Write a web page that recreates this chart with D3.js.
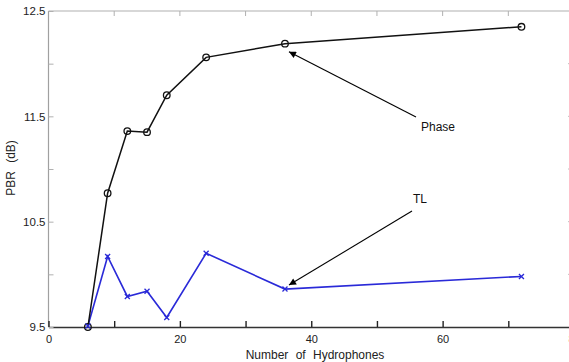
<!DOCTYPE html>
<html>
<head>
<meta charset="utf-8">
<script src="https://cdn.jsdelivr.net/npm/d3@7"></script>
<style>
  body { margin: 0; background: #fff; }
  svg { display: block; }
  text { font-family: "Liberation Sans", Arial, sans-serif; }
</style>
</head>
<body>
<svg id="chart" width="569" height="362"></svg>
<script>
// ---- data ----
const hydrophones = [6, 9, 12, 15, 18, 24, 36, 72];
const phaseValues = [9.5, 10.77, 11.36, 11.35, 11.70, 12.06, 12.19, 12.35];
const tlValues    = [9.51, 10.17, 9.79, 9.84, 9.59, 10.20, 9.86, 9.98];
const xTicks = [0, 10, 20, 30, 40, 50, 60, 70, 80];
const xTickLabels = ["0", "", "20", "", "40", "", "60", "", "80"];
const yTicks = [9.5, 10, 10.5, 11, 11.5, 12, 12.5];
const yTickLabels = ["9.5", "", "10.5", "", "11.5", "", "12.5"];
const annotations = [
  { label: "Phase", x: 36, value: 12.19, textX: 421, textY: 131, fromX: 416, fromY: 117 },
  { label: "TL",    x: 36, value: 9.86,  textX: 413, textY: 203, fromX: 412, fromY: 211 }
];

(function () {
const svg = d3.select("#chart");
const pL = 48.5, pR = 574, pT = 11, pB = 327;
const x = d3.scaleLinear().domain([0, 80]).range([pL, pR]);
const y = d3.scaleLinear().domain([9.5, 12.5]).range([pB, pT]);

// frame: top & left gray
svg.append("line").attr("x1", pL).attr("x2", pR).attr("y1", pT).attr("y2", pT)
  .attr("stroke", "#b0b0b0").attr("stroke-width", 1.2);
svg.append("line").attr("x1", pL).attr("x2", pL).attr("y1", pT).attr("y2", pB)
  .attr("stroke", "#a0a0a0").attr("stroke-width", 1.2);

// bottom axis (ticks inward)
const xAxis = d3.axisBottom(x).tickValues(xTicks)
  .tickFormat((d, i) => xTickLabels[i]).tickSizeInner(-6).tickSizeOuter(0).tickPadding(8);
const gx = svg.append("g").attr("transform", `translate(0,${pB})`).call(xAxis);
gx.select(".domain").attr("stroke", "#333").attr("stroke-width", 1.6);
gx.selectAll(".tick line").attr("stroke", "#222").attr("stroke-width", 1.4);
gx.selectAll(".tick text").attr("font-size", 11).attr("fill", "#222")
  .attr("font-family", "Liberation Sans, Arial, sans-serif");

// top ticks
svg.append("g").selectAll("line").data(xTicks.slice(1, -1)).join("line")
  .attr("x1", d => x(d)).attr("x2", d => x(d)).attr("y1", pT).attr("y2", pT + 5)
  .attr("stroke", "#b0b0b0");

// left axis (ticks inward)
const yAxis = d3.axisLeft(y).tickValues(yTicks)
  .tickFormat((d, i) => yTickLabels[i]).tickSizeInner(-5).tickSizeOuter(0).tickPadding(3);
const gy = svg.append("g").attr("transform", `translate(${pL},0)`).call(yAxis);
gy.select(".domain").remove();
gy.selectAll(".tick line").attr("stroke", "#b0b0b0");
gy.selectAll(".tick text").attr("font-size", 11.5).attr("fill", "#222")
  .attr("font-family", "Liberation Sans, Arial, sans-serif");

// right ticks
svg.append("g").selectAll("line").data(yTicks.slice(1, -1)).join("line")
  .attr("x1", pR - 6).attr("x2", pR).attr("y1", d => y(d)).attr("y2", d => y(d))
  .attr("stroke", "#c0c0c0");

// axis titles
svg.append("text").attr("x", 315).attr("y", 359).attr("text-anchor", "middle")
  .attr("font-size", 12).attr("word-spacing", 4).attr("fill", "#222").text("Number of Hydrophones");
svg.append("text").attr("transform", "translate(15,168) rotate(-90)").attr("text-anchor", "middle")
  .attr("font-size", 12).attr("word-spacing", 5).attr("fill", "#222").text("PBR (dB)");

// series
const line = d3.line().x(d => x(d[0])).y(d => y(d[1]));
const phaseData = hydrophones.map((h, i) => [h, phaseValues[i]]);
const tlData = hydrophones.map((h, i) => [h, tlValues[i]]);

svg.append("path").datum(tlData).attr("d", line).attr("fill", "none")
  .attr("stroke", "#2a2ad8").attr("stroke-width", 1.6);
svg.append("path").datum(phaseData).attr("d", line).attr("fill", "none")
  .attr("stroke", "#111").attr("stroke-width", 1.5);

svg.append("g").selectAll("circle").data(phaseData).join("circle")
  .attr("cx", d => x(d[0])).attr("cy", d => y(d[1])).attr("r", 3.3)
  .attr("fill", "none").attr("stroke", "#111").attr("stroke-width", 1.3);

const s = 2.5;
svg.append("g").selectAll("path").data(tlData).join("path")
  .attr("d", d => {
    const cx = x(d[0]), cy = y(d[1]);
    return `M${cx - s},${cy - s}L${cx + s},${cy + s}M${cx - s},${cy + s}L${cx + s},${cy - s}`;
  })
  .attr("stroke", "#2a2ad8").attr("stroke-width", 1.3);

// annotations
const defs = svg.append("defs");
defs.append("marker").attr("id", "arr").attr("viewBox", "0 0 10 10").attr("refX", 10).attr("refY", 5)
  .attr("markerWidth", 9).attr("markerHeight", 7).attr("markerUnits", "userSpaceOnUse")
  .attr("orient", "auto")
  .append("path").attr("d", "M0,0L10,5L0,10z").attr("fill", "#000");

annotations.forEach(a => {
  const tx = x(a.x) + 4, ty = y(a.value) + (a.label === "Phase" ? 8 : -4);
  svg.append("line").attr("x1", a.fromX).attr("y1", a.fromY).attr("x2", tx).attr("y2", ty)
    .attr("stroke", "#000").attr("stroke-width", 1.1).attr("marker-end", "url(#arr)");
  svg.append("text").attr("x", a.textX).attr("y", a.textY).attr("font-size", 12)
    .attr("fill", "#111").text(a.label);
});
})();
</script>
</body>
</html>
